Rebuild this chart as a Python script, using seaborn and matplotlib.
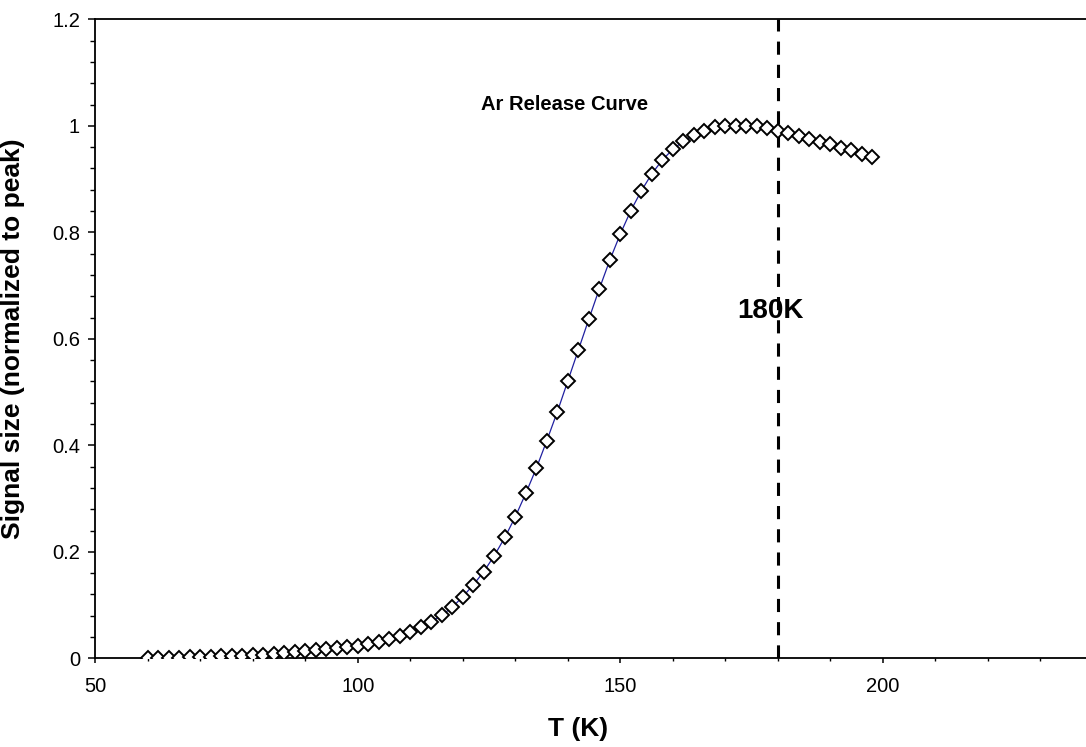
import numpy as np
import pandas as pd
import matplotlib
matplotlib.use("Agg")
import matplotlib.pyplot as plt
from matplotlib.ticker import MultipleLocator
import seaborn as sns

# Temperature ramp (K) and normalized Ar signal
temperature = list(range(60, 200, 2))
signal = [
    0.000, 0.0003, 0.0006, 0.0012, 0.0018, 0.0025, 0.0031, 0.0038, 0.0044, 0.0050,
    0.0058, 0.0069, 0.0086, 0.0104, 0.0122, 0.0140, 0.0165, 0.0180, 0.0198, 0.0218,
    0.0240, 0.0268, 0.031, 0.036, 0.041, 0.049, 0.058, 0.069, 0.081, 0.096,
    0.116, 0.138, 0.163, 0.193, 0.227, 0.266, 0.310, 0.357, 0.409, 0.463,
    0.521, 0.579, 0.637, 0.694, 0.748, 0.797, 0.841, 0.878, 0.910, 0.936,
    0.956, 0.971, 0.983, 0.991, 0.997, 0.999, 1.000, 1.000, 0.999, 0.996,
    0.991, 0.986, 0.981, 0.975, 0.970, 0.965, 0.958, 0.954, 0.948, 0.941,
]
cutoff_T = 180
cutoff_label = "180K"
curve_title = "Ar Release Curve"

sns.set_theme(style="white")
plt.rcParams["font.family"] = ["Liberation Sans", "DejaVu Sans"]
plt.rcParams["text.color"] = "black"
plt.rcParams["axes.labelcolor"] = "black"
plt.rcParams["xtick.color"] = "black"
plt.rcParams["ytick.color"] = "black"

df = pd.DataFrame({"T": temperature, "signal": signal})

fig = plt.figure(figsize=(10.86, 7.47), dpi=100)
ax = fig.add_axes([0.0878, 0.1187, 0.9185, 0.8554])

sns.lineplot(data=df, x="T", y="signal", ax=ax, color="#2020a0", linewidth=0.9,
             marker="D", markersize=7.6, markerfacecolor="white",
             markeredgecolor="black", markeredgewidth=1.4, zorder=3)

ax.axvline(cutoff_T, color="black", linewidth=2.2, dashes=(4.3, 3.3), zorder=2)

ax.set_xlim(50, 240)
ax.set_ylim(0, 1.2)
ax.xaxis.set_major_locator(MultipleLocator(50))
ax.xaxis.set_minor_locator(MultipleLocator(10))
ax.yaxis.set_minor_locator(MultipleLocator(0.04))
ax.set_yticks([0, 0.2, 0.4, 0.6, 0.8, 1.0, 1.2])
ax.set_yticklabels(["0", "0.2", "0.4", "0.6", "0.8", "1", "1.2"])

ax.tick_params(axis="both", which="both", direction="out", colors="black",
               labelcolor="black", labelsize=14.5,
               bottom=True, left=True, top=False, right=False)
ax.tick_params(axis="y", which="major", length=5, width=1.1, pad=6)
ax.tick_params(axis="y", which="minor", length=3.6, width=1.0)
ax.tick_params(axis="x", which="major", length=3.8, width=1.1, pad=10)
ax.tick_params(axis="x", which="minor", length=2.5, width=1.0)

for side in ["left", "bottom", "top"]:
    ax.spines[side].set_visible(True)
    ax.spines[side].set_color("black")
    ax.spines[side].set_linewidth(1.3)
ax.spines["right"].set_visible(False)

ax.set_xlabel("T (K)", fontsize=19, fontweight="bold", color="black")
ax.set_ylabel("Signal size (normalized to peak)", fontsize=19, fontweight="bold",
              color="black")
ax.xaxis.set_label_coords(0.484, -0.092)
ax.yaxis.set_label_coords(-0.0705, 0.5)

ax.text(123.5, 1.030, curve_title, fontsize=14.5, fontweight="bold",
        ha="left", va="baseline", color="black")
ax.text(172.2, 0.639, cutoff_label, fontsize=20, fontweight="bold",
        ha="left", va="baseline", color="black")

fig.savefig("out.png", dpi=100)
